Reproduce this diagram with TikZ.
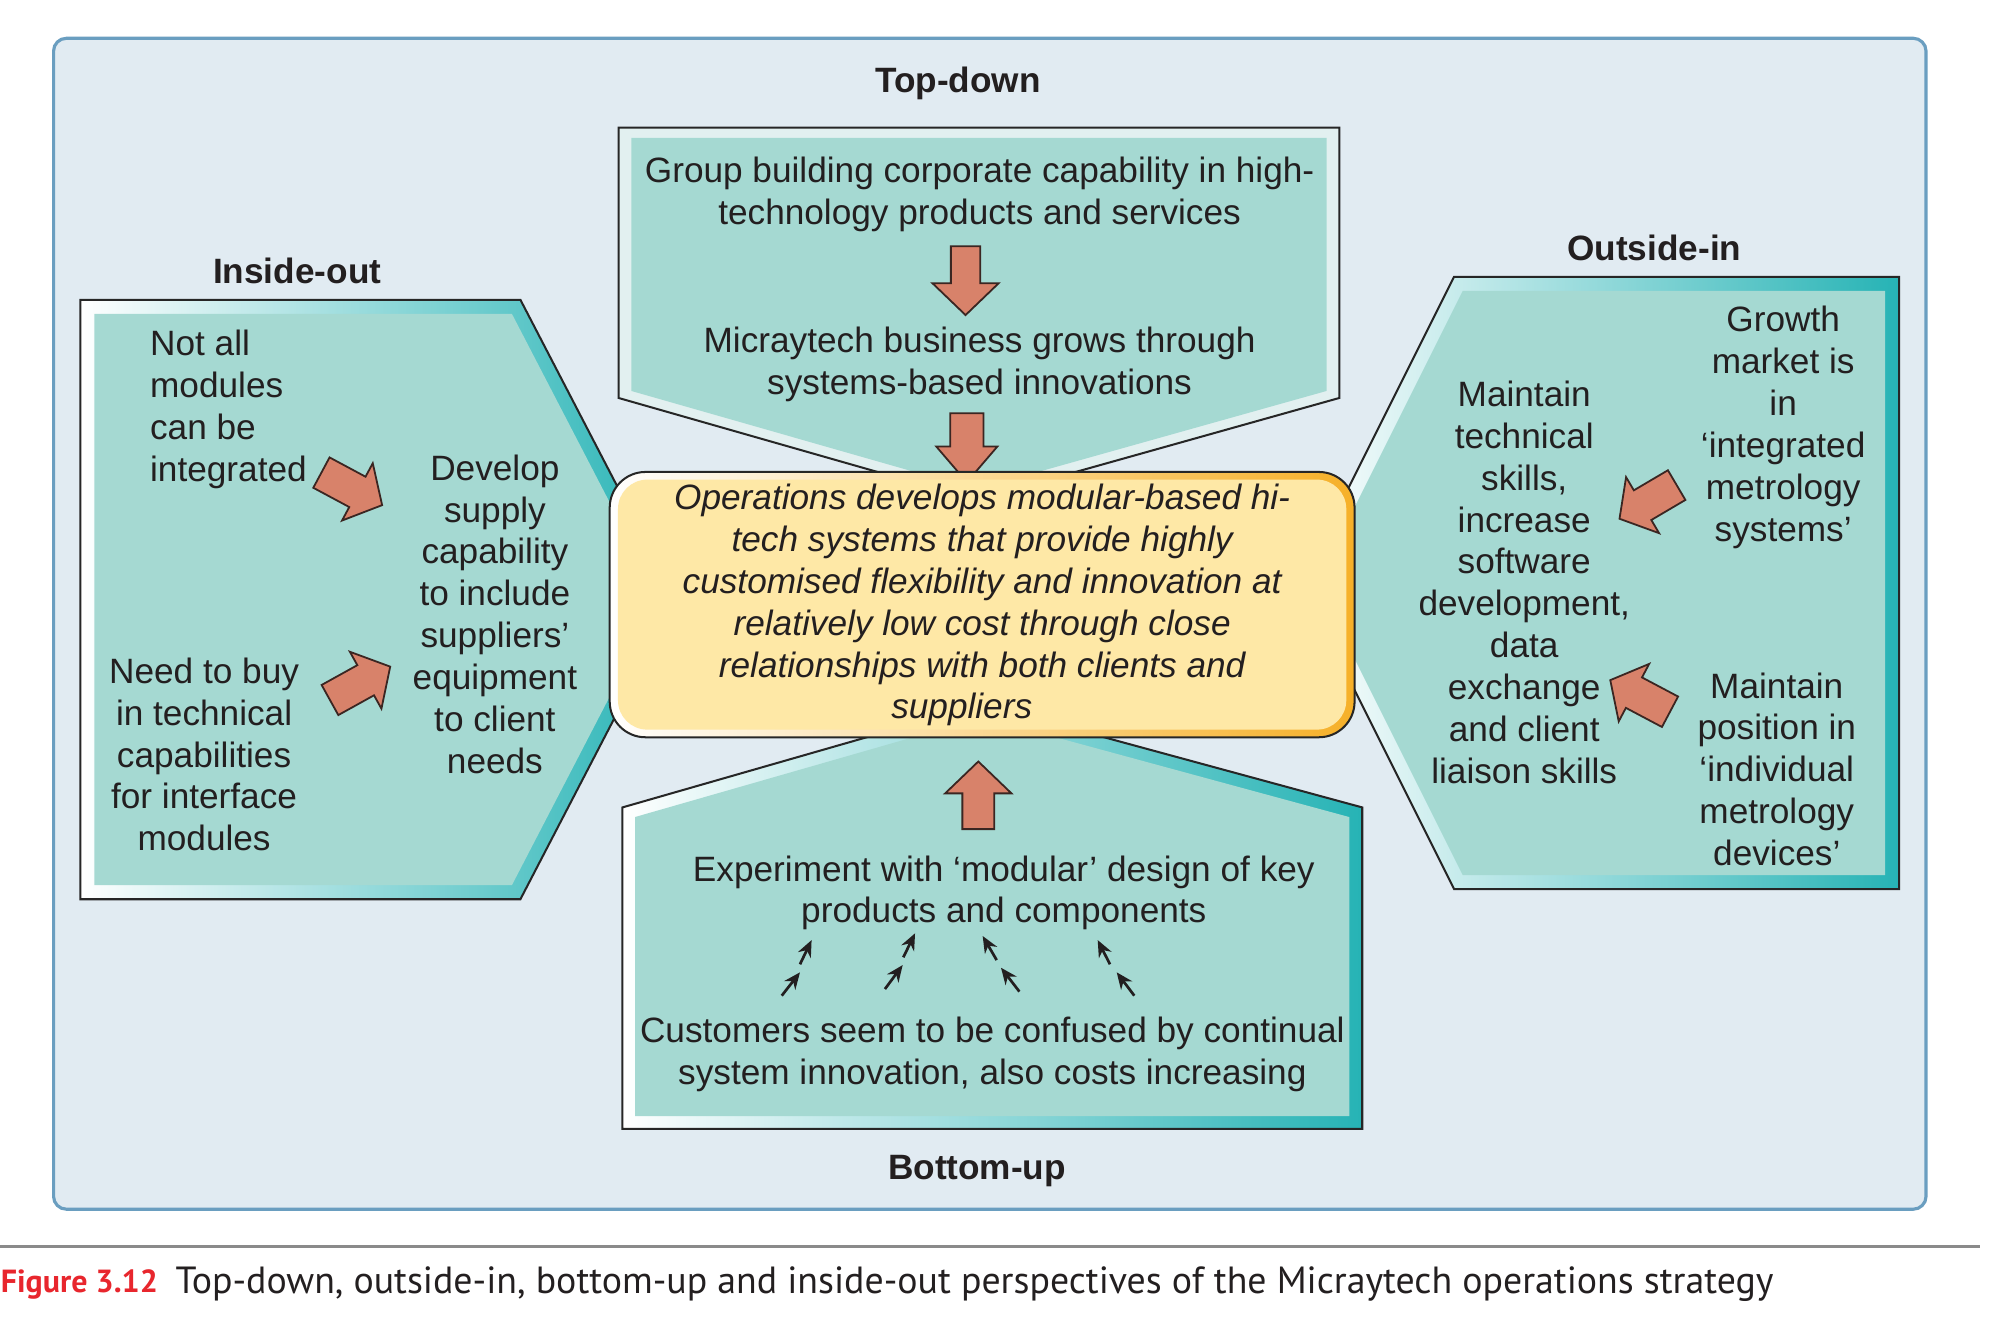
\documentclass[tikz,border=0pt]{standalone}
\usepackage{graphicx}
\usepackage{fontspec}
\setmainfont{Liberation Sans}
\newfontfamily\capfont{PT Sans}
\usetikzlibrary{arrows.meta}
\definecolor{panelfill}{HTML}{E1EBF2}
\definecolor{panelline}{HTML}{6A9EC0}
\definecolor{tealfill}{HTML}{A5D9D2}
\definecolor{tealdark}{HTML}{26B3B5}
\definecolor{bandlight}{HTML}{E2F0F0}
\definecolor{arrowfill}{HTML}{D8826A}
\definecolor{arrowline}{HTML}{3B2622}
\definecolor{centrefill}{HTML}{FEE8A6}
\definecolor{centreorange}{HTML}{F6B028}
\definecolor{figred}{HTML}{E8262D}
\definecolor{txt}{HTML}{231F20}
\definecolor{rulegray}{HTML}{8A8A8A}
\tikzset{
  body/.style={font=\fontsize{7.85}{9.33}\selectfont, text=txt, inner sep=0pt, align=center},
  heading/.style={font=\fontsize{7.85}{9.33}\selectfont\bfseries, text=txt, inner sep=0pt},
  frame/.style={draw=black!85, line width=0.45pt, line join=miter},
  barrowstyle/.style={fill=arrowfill, draw=arrowline, line width=0.4pt, line join=miter},
  smallarr/.style={draw=txt, line width=0.6pt, -{Stealth[length=1.3mm,width=1.1mm]}},
  pics/barrow/.style args={#1/#2/#3/#4}{code={
    \path[barrowstyle] (0,-#1) -- (#2,-#1) -- (#2,-#3) -- ({#2+#4},0) -- (#2,#3) -- (#2,#1) -- (0,#1) -- cycle;}}
}
\begin{document}
\begin{tikzpicture}[x=0.01cm,y=-0.01cm]
\useasboundingbox (0,0) rectangle (1568,1050);
\fill[white] (0,0) rectangle (1568,1050);
% panel
\draw[panelline, fill=panelfill, line width=0.7pt, rounded corners=0.1cm] (42,30) rectangle (1510,948);

% ---------- top-down box
\draw[frame, fill=bandlight] (485,100) -- (1050,100) -- (1050,312) -- (765,392) -- (485,312) -- cycle;
\fill[tealfill] (495,108) -- (1040,108) -- (1040,306.5) -- (765,383.7) -- (495,306.5) -- cycle;

% ---------- inside-out box
\shade[left color=white, right color=tealdark] (63,235) -- (408,235) -- (530,470) -- (408,705) -- (63,705) -- cycle;
\draw[frame] (63,235) -- (408,235) -- (530,470) -- (408,705) -- (63,705) -- cycle;
\fill[tealfill] (74,246) -- (401.3,246) -- (517.5,470) -- (401.3,694) -- (74,694) -- cycle;

% ---------- outside-in box
\shade[left color=white, right color=tealdark] (1140,217) -- (1489,217) -- (1489,697) -- (1140,697) -- (1020,457) -- cycle;
\draw[frame] (1140,217) -- (1489,217) -- (1489,697) -- (1140,697) -- (1020,457) -- cycle;
\fill[tealfill] (1146.8,228) -- (1478,228) -- (1478,686) -- (1146.8,686) -- (1032.3,457) -- cycle;

% ---------- bottom-up box
\shade[left color=white, right color=tealdark] (488,633) -- (770,552) -- (1068,633) -- (1068,885) -- (488,885) -- cycle;
\draw[frame] (488,633) -- (770,552) -- (1068,633) -- (1068,885) -- (488,885) -- cycle;
\fill[tealfill] (498,640.5) -- (770.2,562.4) -- (1058,640.6) -- (1058,875) -- (498,875) -- cycle;

% ---------- block arrows
\pic[rotate=-90] at (757,193) {barrow={11.5/29/26/25}};
\pic[rotate=-90] at (758,324) {barrow={13/26/24/28}};
\pic[rotate=90] at (767,650) {barrow={12.5/28/26/25}};
\pic[rotate=-28.2] at (252,370.5) {barrow={13.5/32/25.5/22}};
\pic[rotate=29] at (258.7,548.8) {barrow={13.5/32/25.5/22}};
\pic[rotate=-149.5] at (1314.5,380.3) {barrow={13.5/31/25.5/21}};
\pic[rotate=152.1] at (1309.3,558) {barrow={13.5/32/25.5/21}};

% ---------- central box
\shade[left color=white, right color=centreorange, rounded corners=0.28cm] (478,370) rectangle (1062,578);
\fill[centrefill, rounded corners=0.23cm] (484.5,376) rectangle (1055.5,572);
\draw[frame, rounded corners=0.28cm] (478,370) rectangle (1062,578);

% ---------- headings
\node[heading] (hTop) at (751,65) {Top-down};
\node[heading] (hIn) at (233,212) {Inside-out};
\node[heading] (hOut) at (1297,194) {Outside-in};
\node[heading] (hBot) at (766,918) {Bottom-up};

% ---------- texts
\node[body] (t1) at (768,152.5) {Group building corporate capability in high-\\technology products and services};
\node[body] (t2) at (768,285.5) {Micraytech business grows through\\systems-based innovations};
\node[body, font=\fontsize{7.85}{9.33}\selectfont\itshape] (centre) at (770,474.5) {Operations develops modular-based hi-\\tech systems that provide highly\\customised flexibility and innovation at\\relatively low cost through close\\relationships with both clients and\\suppliers\hspace*{0.32cm}};

\node[body, align=left, anchor=west] (l1) at (117,321) {Not all\\modules\\can be\\integrated};
\node[body] (l2) at (160,591.5) {Need to buy\\in technical\\capabilities\\for interface\\modules};
\node[body] (l3) at (388,481.5) {Develop\\supply\\capability\\to include\\suppliers’\\equipment\\to client\\needs};

\node[body] (r1) at (1195,456.5) {Maintain\\technical\\skills,\\increase\\software\\development,\\data\\exchange\\and client\\liaison skills};
\node[body] (r2) at (1398,335) {Growth\\market is\\in\\‘integrated\\metrology\\systems’};
\node[body] (r3) at (1393,603) {Maintain\\position in\\‘individual\\metrology\\devices’};

\node[body] (b1) at (787,700) {Experiment with ‘modular’ design of key\\products and components};
\node[body] (b2) at (778,826.5) {Customers seem to be confused by continual\\system innovation, also costs increasing};

% ---------- small arrows
\draw[smallarr] (612.9,780.6) -- (627.2,762.3);
\draw[smallarr] (627.2,756.0) -- (636.3,737.0);
\draw[smallarr] (693.8,775.4) -- (707.7,756.6);
\draw[smallarr] (708.2,750.5) -- (717.4,731.7);
\draw[smallarr] (781.4,752.7) -- (770.4,733.8);
\draw[smallarr] (799.2,777.4) -- (784.8,758.7);
\draw[smallarr] (870.2,756.0) -- (860.6,737.0);
\draw[smallarr] (889.3,780.6) -- (875.5,762.3);

% ---------- caption
\draw[rulegray, line width=0.6pt] (0,977) -- (1552,977);
\node[anchor=west, inner sep=0pt] (fig) at (0,1007) {\resizebox{1.23cm}{!}{\capfont\bfseries\color{figred}Figure 3.12}};
\node[anchor=west, inner sep=0pt] (cap) at (137,1007) {\resizebox{12.52cm}{!}{\capfont\color{txt}Top-down, outside-in, bottom-up and inside-out perspectives of the Micraytech operations strategy}};
\end{tikzpicture}
\end{document}
